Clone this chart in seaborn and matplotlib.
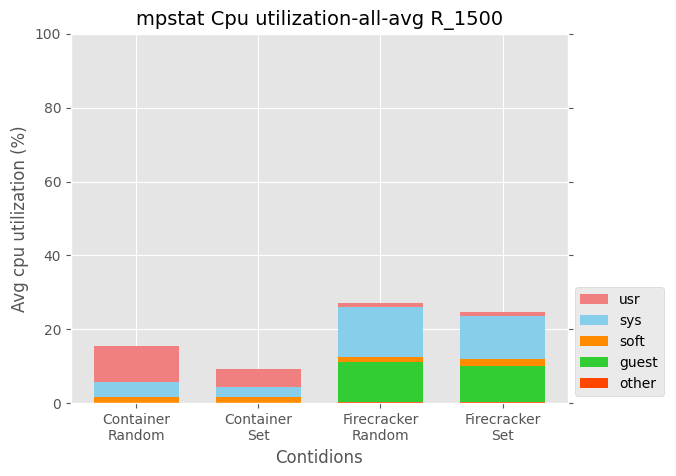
import numpy as np
import pandas as pd
import matplotlib
matplotlib.use("Agg")
import matplotlib.pyplot as plt
import seaborn as sns

# data
conditions = ["Container\nRandom", "Container\nSet", "Firecracker\nRandom", "Firecracker\nSet"]
other = [0.1, 0.1, 0.3, 0.3]
guest = [0.0, 0.0, 10.9, 9.8]
soft = [1.5, 1.5, 1.3, 1.8]
sys_ = [4.1, 2.8, 13.5, 11.7]
usr = [9.7, 4.9, 1.1, 1.1]

plt.style.use("ggplot")
fig, ax = plt.subplots(figsize=(6.76, 4.76), dpi=100)
fig.subplots_adjust(left=0.105, right=0.84, top=0.929, bottom=0.153)

layers = [("other", other, "orangered"),
          ("guest", guest, "limegreen"),
          ("soft", soft, "darkorange"),
          ("sys", sys_, "skyblue"),
          ("usr", usr, "lightcoral")]

bottom = np.zeros(len(conditions))
for name, vals, color in layers:
    df = pd.DataFrame({"cond": conditions, "val": vals})
    sns.barplot(data=df, x="cond", y="val", color=color, bottom=bottom,
                width=0.7, label=name, saturation=1, ax=ax)
    bottom += np.array(vals)

ax.set_ylim(0, 100)
ax.set_xlim(-0.535, 3.535)
ax.grid(True, axis="both", color="white")
ax.set_axisbelow(True)
ax.set_title("mpstat Cpu utilization-all-avg R_1500", fontsize=14)
ax.set_xlabel("Contidions", fontsize=12)
ax.set_ylabel("Avg cpu utilization (%)", fontsize=12)
ax.tick_params(right=True, labelsize=10)

handles, labels = ax.get_legend_handles_labels()
ax.legend(handles[::-1], labels[::-1], loc="lower left", bbox_to_anchor=(1.0, 0.0),
          fontsize=10)

fig.savefig("out.png", dpi=100)
